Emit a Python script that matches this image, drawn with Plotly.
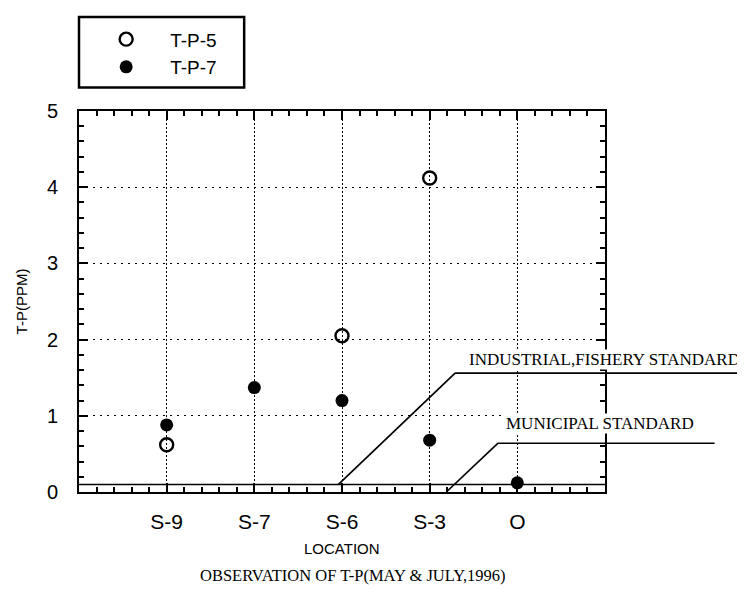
import plotly.graph_objects as go

# ---- data ----
locations = ["S-9", "S-7", "S-6", "S-3", "O"]
loc_pos = [1, 2, 3, 4, 5]
tp5_loc = [1, 3, 4]
tp5_vals = [0.62, 2.05, 4.12]
tp7_loc = [1, 2, 3, 4, 5]
tp7_vals = [0.88, 1.37, 1.20, 0.68, 0.12]
y_ticks = [0, 1, 2, 3, 4, 5]
standard_level = 0.1

XR = [0, 6]
YR = [0, 5]

fig = go.Figure()
fig.add_trace(go.Scatter(
    x=tp5_loc, y=tp5_vals, mode="markers", name="T-P-5",
    marker=dict(symbol="circle-open", size=13, color="black", line=dict(width=2.4)),
    cliponaxis=False))
fig.add_trace(go.Scatter(
    x=tp7_loc, y=tp7_vals, mode="markers", name="T-P-7",
    marker=dict(symbol="circle", size=13, color="black"),
    cliponaxis=False))

# standard line across the plot
fig.add_shape(type="line", xref="x", yref="y", x0=XR[0], x1=XR[1],
              y0=standard_level, y1=standard_level, line=dict(color="black", width=1.5))

def px(x):
    return (x - XR[0]) / (XR[1] - XR[0])

def py(y):
    return (y - YR[0]) / (YR[1] - YR[0])

# leader lines (paper coordinates so they may leave the plot area)
ind = [(2.96, 0.1), (4.29, 1.56), (7.52, 1.56)]
mun = [(4.19, 0.0), (4.78, 0.64), (7.25, 0.64)]
for pts in (ind, mun):
    for (xa, ya), (xb, yb) in zip(pts[:-1], pts[1:]):
        fig.add_shape(type="line", xref="paper", yref="paper",
                      x0=px(xa), y0=py(ya), x1=px(xb), y1=py(yb),
                      line=dict(color="black", width=1.7))

fig.add_annotation(xref="paper", yref="paper", x=0.74, y=py(1.56) + 0.036,
                   xanchor="left", yanchor="middle", showarrow=False,
                   text="INDUSTRIAL,FISHERY STANDARD", bgcolor="white", borderpad=0,
                   font=dict(family="Liberation Serif", size=17, color="black"))
fig.add_annotation(xref="paper", yref="paper", x=0.81, y=py(0.64) + 0.052,
                   xanchor="left", yanchor="middle", showarrow=False,
                   text="MUNICIPAL STANDARD", bgcolor="white", borderpad=0,
                   font=dict(family="Liberation Serif", size=17, color="black"))

fig.add_annotation(xref="paper", yref="paper", x=px(3), y=-0.147,
                   xanchor="center", yanchor="middle", showarrow=False,
                   text="LOCATION",
                   font=dict(family="Liberation Sans", size=15, color="black"))
fig.add_annotation(xref="paper", yref="paper", x=0.52, y=-0.22,
                   xanchor="center", yanchor="middle", showarrow=False,
                   text="OBSERVATION OF T-P(MAY &amp; JULY,1996)",
                   font=dict(family="Liberation Serif", size=16.5, color="black"))

# legend frame
fig.add_shape(type="rect", xref="paper", yref="paper", x0=0.0, x1=0.314,
              y0=1.062, y1=1.247, line=dict(color="black", width=2.5))

axis_common = dict(showline=True, linecolor="black", linewidth=2, mirror="ticks",
                   ticks="inside", tickcolor="black", tickwidth=2, ticklen=9,
                   showgrid=True, gridcolor="black", gridwidth=1,
                   zeroline=False)

fig.update_xaxes(range=XR, tickmode="array", tickvals=loc_pos, ticktext=locations,
                 tickfont=dict(family="Liberation Sans", size=21, color="black"),
                 minor=dict(dtick=0.2, tick0=0, ticks="inside", ticklen=5, tickwidth=2,
                            tickcolor="black", showgrid=False),
                 ticklabelstandoff=10, griddash="2px,2px",
                 **axis_common)
fig.update_yaxes(range=YR, tickmode="array", tickvals=y_ticks,
                 tickfont=dict(family="Liberation Sans", size=20, color="black"),
                 minor=dict(dtick=0.2, tick0=0, ticks="inside", ticklen=5, tickwidth=2,
                            tickcolor="black", showgrid=False),
                 ticklabelstandoff=15, griddash="2px,5px",
                 title=dict(text="T-P(PPM)", standoff=16,
                            font=dict(family="Liberation Sans", size=15, color="black")),
                 **axis_common)

fig.update_layout(
    width=737, height=587,
    margin=dict(l=69, r=140, t=99, b=103),
    paper_bgcolor="white", plot_bgcolor="white",
    showlegend=True,
    legend=dict(x=0.006, y=1.238, xanchor="left", yanchor="top",
                borderwidth=0, bgcolor="rgba(0,0,0,0)",
                font=dict(family="Liberation Sans", size=19, color="black"),
                itemwidth=78, tracegroupgap=0),
)

fig.write_html("out.html")
